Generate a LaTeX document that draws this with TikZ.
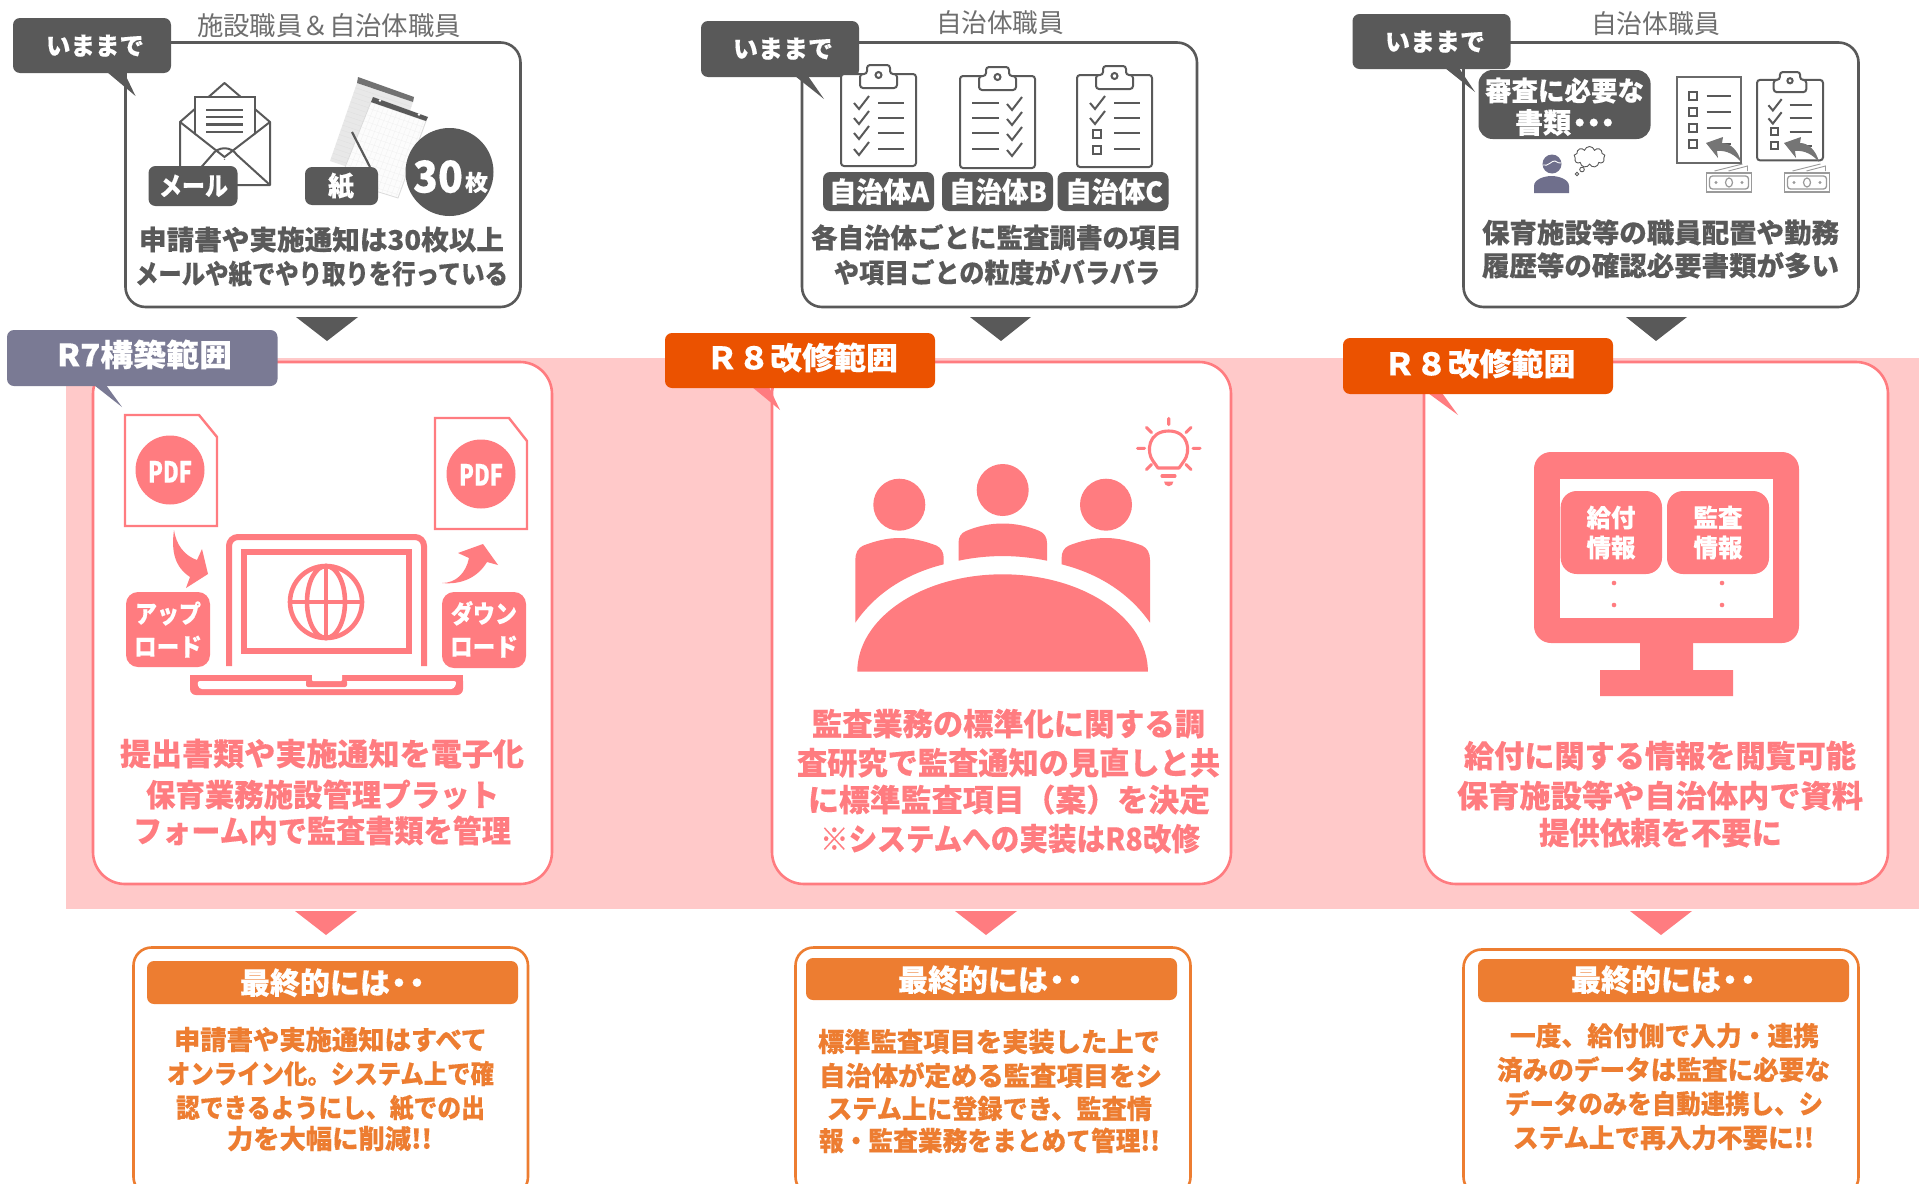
\documentclass[tikz,border=0pt]{standalone}
\usepackage{fontspec}
\usepackage{graphicx}
\usetikzlibrary{shapes.symbols,calc}
\setmainfont{Noto Sans CJK JP}[BoldFeatures={FakeBold=0.25}]
\newfontfamily\jpreg{Noto Sans CJK JP}
\definecolor{dk}{HTML}{595959}
\definecolor{hd}{HTML}{6E6E6E}
\definecolor{pk}{HTML}{FF7C80}
\definecolor{band}{HTML}{FFC9C9}
\definecolor{org}{HTML}{ED7D31}
\definecolor{rv}{HTML}{EB5200}
\definecolor{nv}{HTML}{7A7A94}
\definecolor{pn}{HTML}{6F6F8C}
\definecolor{ar}{HTML}{757575}
\definecolor{mn}{HTML}{9A9A9A}
% name, cx, cy, width, size, colour, text
\newcommand{\tx}[7]{\node[inner sep=0pt,anchor=base,text=#6] (#1) at (#2,{#3+0.40*#5}) {\fontsize{#5}{#5}\selectfont\bfseries\resizebox{#4pt}{\height}{#7}};}
\newcommand{\rgt}[7]{\node[inner sep=0pt,anchor=base,text=#6] (#1) at (#2,{#3+0.38*#5}) {\fontsize{#5}{#5}\selectfont\jpreg\resizebox{#4pt}{\height}{#7}};}
\newcommand{\finalhead}{最終的には\kern-.2em・\kern-.4em・\kern-.33em}
% clipboard frame: x,y of top-left
\newcommand{\clipframe}{%
  \draw[iconline,rounded corners=3pt,fill=white] (0,9) rectangle (75,101);
  \draw[iconline,fill=white,rounded corners=3pt] (19,23) -- (19,9) -- (26,9) -- (26,0) -- (49,0) -- (49,9) -- (56,9) -- (56,23) -- cycle;
  \draw[iconline] (37.5,10) circle (3);
}
\newcommand{\chk}[2]{\draw[iconline] (#1,#2) -- ++(5,6) -- ++(10,-13);}
\newcommand{\sqr}[2]{\draw[iconline] (#1,#2) ++(-4,-4) rectangle ++(8,8);}
\newcommand{\hln}[3]{\draw[iconline] (#1,#3) -- (#2,#3);}
\newcommand{\money}{%
  \draw[mn,line width=1.3pt,fill=white] (0,3) rectangle (45,22);
  \draw[mn,line width=1.3pt,rounded corners=3pt] (3,6) rectangle (42,19);
  \draw[mn,line width=1.2pt] (22.5,12.5) ellipse (3.5 and 4.5);
  \fill[mn] (9.5,12.5) circle (1.7) (35.5,12.5) circle (1.7);
  \draw[mn,line width=.9pt] (8,1) -- (36,-6) (22,1) -- (41,-4) -- (41,1);
}
\newcommand{\greyarrow}{%
  \fill[ar] (1741,162) .. controls (1738,150) and (1730,143) .. (1722,143) -- (1723,137) -- (1706,143) -- (1718,158) -- (1717,151) .. controls (1727,150) and (1735,155) .. (1741,162) -- cycle;
}
\tikzset{
  iconline/.style={dk,line width=2pt},
  panel/.style={dk,line width=2.6pt,fill=white,rounded corners=20pt},
  pkpanel/.style={pk,line width=2.6pt,fill=white,rounded corners=32pt},
  orpanel/.style={org,line width=2.6pt,fill=white,rounded corners=18pt},
  callout/.style={fill=dk,rounded corners=7pt},
  tag/.style={fill=dk,rounded corners=7pt},
  orhead/.style={fill=org,rounded corners=7pt},
  bulb/.style={pk,line width=3.1pt,line cap=round},
}
\begin{document}
\begin{tikzpicture}[x=1pt,y=-1pt]
\useasboundingbox (0,0) rectangle (1919,1183);
\clip (0,0) rectangle (1919,1183);
\fill[white] (0,0) rectangle (1919,1183);
% pink band
\fill[band] (66,358) rectangle (1919,909);

%%% ---------- top panels
\draw[panel] (125.5,42.5) rectangle (520.5,307);
\draw[panel] (802,42.5) rectangle (1197,307);
\draw[panel] (1463.5,42.5) rectangle (1858.5,307);
\fill[dk] (296,317) -- (358,317) -- (327,341) -- cycle;
\fill[dk] (970,317) -- (1031,317) -- (1001,341) -- cycle;
\fill[dk] (1626,317) -- (1687,317) -- (1656,341) -- cycle;

% envelope
\draw[iconline,fill=white,line join=round] (180,122) -- (224.5,83) -- (270,122) -- (270,185) -- (180,185) -- cycle;
\draw[iconline,fill=white] (195,97) rectangle (255,160);
\fill[white] (182,124) -- (224.5,160) -- (268,124) -- (268,183) -- (182,183) -- cycle;
\draw[iconline] (180,122) -- (224.5,157) -- (270,122);
\draw[iconline,line join=round] (190,180) -- (212,155) .. controls (218,146) and (231,146) .. (237,155) -- (270,185);
\draw[dk,line width=2.4pt] (206,110) -- (243,110) (206,117) -- (243,117) (206,124.5) -- (243,124.5) (206,132) -- (243,132);
\fill[tag] (148.5,166) rectangle (237.5,206);
\tx{mail}{193.5}{185}{69}{26}{white}{メール}

% paper
\fill[black!9] (357,83) -- (413,102) -- (386,180) -- (330,161) -- cycle;
\foreach \tv in {.06,.12,...,1}{\draw[black!13,line width=.3pt] ($(357,83)!\tv!(330,161)$) -- ($(413,102)!\tv!(386,180)$);}
\fill[dk!85] (358,77) -- (414,97) -- (413,102) -- (357,83) -- cycle;
\fill[black!1,draw=black!14,line width=.8pt] (371,102) -- (426,121) -- (398,198) -- (340,180) -- cycle;
\foreach \tv in {.08,.16,...,1}{\draw[black!6,line width=.3pt] ($(371,102)!\tv!(340,180)$) -- ($(426,121)!\tv!(398,198)$);
  \draw[black!6,line width=.3pt] ($(371,102)!\tv!(426,121)$) -- ($(340,180)!\tv!(398,198)$);}
\fill[dk] (373,97) -- (428,117) -- (426,121) -- (371,102) -- cycle;
\fill[white] (380,100.5) circle (1.4) (419,114.5) circle (1.4);
\draw[dk,line width=2.2pt] (352,132) -- (370,167);
\fill[tag] (305,167) rectangle (378,205);
\tx{kami}{341}{185}{26}{27}{white}{紙}
\fill[dk] (449.5,172) circle (44);
\tx{n30}{438}{175}{50}{44}{white}{30}
\tx{mai}{476.5}{182}{23}{22}{white}{枚}

% headers
\rgt{h1}{329}{26}{264}{26}{hd}{施設職員＆自治体職員}
\rgt{h2}{1000}{23}{128}{26}{hd}{自治体職員}
\rgt{h3}{1655.5}{24}{129}{26}{hd}{自治体職員}

% callouts
\fill[dk] (107,72) -- (124,72) -- (135.5,96) -- cycle;
\fill[callout] (13,18) rectangle (171,73);
\tx{c1}{95}{45}{98}{25}{white}{いままで}
\fill[dk] (795,76) -- (808,76) -- (824,99) -- cycle;
\fill[callout] (701,21) rectangle (859,77);
\tx{c2}{783}{48}{100}{25}{white}{いままで}
\fill[dk] (1445,68) -- (1459,68) -- (1475,92) -- cycle;
\fill[callout] (1352.5,14) rectangle (1510.5,69);
\tx{c3}{1435}{41}{100}{25}{white}{いままで}

\tx{t1a}{321.5}{239}{365}{27}{dk}{申請書や実施通知は30枚以上}
\tx{t1b}{321.5}{273}{373}{27}{dk}{メールや紙でやり取りを行っている}

% clipboards
\begin{scope}[shift={(841,65)}]
\clipframe
\foreach \y in {38,53,68,84}{\chk{13}{\y}\hln{37}{63}{\y}}
\end{scope}
\begin{scope}[shift={(960,67)}]
\clipframe
\foreach \y in {36,51,66,82}{\chk{47}{\y+1}\hln{12}{39}{\y}}
\end{scope}
\begin{scope}[shift={(1077,66)}]
\clipframe
\foreach \y in {37,52}{\chk{13}{\y}}
\foreach \y in {37,52,67,83}{\hln{37}{63}{\y}}
\sqr{20}{68}\sqr{20}{84}
\end{scope}
\fill[tag] (823,172) rectangle (934,211);
\tx{ja}{879}{191}{100}{28}{white}{自治体A}
\fill[tag] (942,172) rectangle (1053,211);
\tx{jb}{998}{191}{98}{28}{white}{自治体B}
\fill[tag] (1057.5,172) rectangle (1168.5,211);
\tx{jc}{1114}{191}{98}{28}{white}{自治体C}
\tx{t2a}{996.5}{237}{371}{27}{dk}{各自治体ごとに監査調書の項目}
\tx{t2b}{997}{272}{326}{27}{dk}{や項目ごとの粒度がバラバラ}

% panel 3 contents
\fill[dk,rounded corners=14pt] (1478.5,70) rectangle (1650.6,139);
\tx{sa}{1564.5}{90}{159}{27}{white}{審査に必要な}
\tx{sb}{1563.5}{122}{97}{28}{white}{書類\kern-.2em・\kern-.5em・\kern-.5em・\kern-.35em}
\fill[pn] (1552,164) circle (9.5);
\draw[white,line width=.9pt] (1543,165) .. controls (1548,167) and (1552,160) .. (1555,161) .. controls (1558,162) and (1559,164) .. (1561,163);
\fill[pn] (1534,193) -- (1534,186) .. controls (1534,179) and (1545,176) .. (1551.5,176) .. controls (1558,176) and (1569,179) .. (1569,186) -- (1569,193) -- cycle;
\node[cloud,draw=dk,line width=.9pt,fill=white,cloud puffs=9,aspect=1.5,minimum width=31pt,minimum height=21pt,inner sep=0pt] (thought) at (1589.5,157) {};
\draw[dk,line width=.9pt] (1582,169.5) circle (2.3) (1577,174) circle (1.8);
% sheet
\draw[dk!90,line width=2pt,fill=white] (1677,77) rectangle (1741,163);
\foreach \y in {96,112,128}{\draw[dk,line width=2pt] (1688.5,\y-4) rectangle ++(8,8);\draw[dk,line width=2pt] (1706.6,\y) -- (1731,\y);}
\draw[dk,line width=2pt] (1688.5,140) rectangle ++(8,8);
\draw[dk,line width=2pt] (1714,144) -- (1731,144);
\begin{scope}[shift={(1757,72)},xscale=.88,yscale=.875]
\clipframe
\foreach \y in {38,53}{\chk{13}{\y}}
\foreach \y in {38,53,68,84}{\hln{37}{63}{\y}}
\sqr{20}{68}\sqr{20}{84}
\end{scope}
\greyarrow
\begin{scope}[xshift=78pt]\greyarrow\end{scope}
\begin{scope}[shift={(1706.5,170)}]\money\end{scope}
\begin{scope}[shift={(1784.5,170)}]\money\end{scope}
\tx{t3a}{1660.5}{232}{357}{27}{dk}{保育施設等の職員配置や勤務}
\tx{t3b}{1660.5}{265}{357}{27}{dk}{履歴等の確認必要書類が多い}

%%% ---------- pink panels
\draw[pkpanel] (93,362) rectangle (552,884);
\draw[pkpanel] (772,362) rectangle (1231,884);
\draw[pkpanel] (1424,362) rectangle (1888,884);

% tags
\fill[nv] (94,385) -- (106,385) -- (122,407) -- cycle;
\fill[nv,rounded corners=7pt] (7,330) rectangle (277.5,386);
\tx{r7}{144.5}{354}{175}{31}{white}{R7構築範囲}
\fill[pk] (752,387) -- (769,387) -- (780,410) -- cycle;
\fill[rv,rounded corners=7pt] (665,333) rectangle (935,388);
\tx{r8a}{802}{357}{192}{31}{white}{Ｒ８改修範囲}
\fill[pk] (1428,393) -- (1442,393) -- (1458,415) -- cycle;
\fill[rv,rounded corners=7pt] (1343,338) rectangle (1613,394);
\tx{r8b}{1479.5}{363}{192}{31}{white}{Ｒ８改修範囲}

% PDF docs
\draw[pk,line width=2.4pt,fill=white] (125,415) -- (199,415) -- (217,437) -- (217,526) -- (125,526) -- cycle;
\fill[pk] (170,470) circle (34.5);
\tx{pdfa}{170}{471}{44}{29}{white}{PDF}
\draw[pk,line width=2.4pt,fill=white] (435,418) -- (509,418) -- (527,441) -- (527,529) -- (435,529) -- cycle;
\fill[pk] (481,474) circle (34.5);
\tx{pdfb}{481}{474}{44}{29}{white}{PDF}
% curved arrows
\fill[pk] (174,530) .. controls (171,552) and (175,567) .. (190,577) -- (186,588) -- (208,574) -- (202,549) -- (197,560) .. controls (185,556) and (176,545) .. (174,530) -- cycle;
\fill[pk] (442,583) .. controls (456,583) and (466,573) .. (469,558) -- (458,553) -- (483,544) -- (498,565) -- (487,562) .. controls (478,577) and (462,585) .. (442,583) -- cycle;
% up/down tags
\fill[pk,rounded corners=12pt] (126,592) rectangle (210,667);
\tx{upa}{168}{613}{66}{25}{white}{アップ}
\tx{upb}{168}{646}{68}{25}{white}{ロード}
\fill[pk,rounded corners=12pt] (442,592) rectangle (526,668);
\tx{dna}{484}{613}{66}{25}{white}{ダウン}
\tx{dnb}{484}{646}{68}{25}{white}{ロード}
% laptop
\draw[pk,line width=6pt,rounded corners=9pt] (229,666) -- (229,537) -- (424,537) -- (424,666);
\draw[pk,line width=6pt] (244,552) rectangle (409,651);
\draw[pk,line width=4.6pt] (326,602) circle (36);
\draw[pk,line width=4.6pt] (326,602) ellipse (19 and 36);
\draw[pk,line width=4.6pt] (326,566) -- (326,638) (290,602) -- (362,602);
\fill[pk,rounded corners=6pt] (190,675) -- (190,695) -- (463,695) -- (463,675) -- cycle;
\fill[pk] (190,675) rectangle (463,685);
\fill[white,rounded corners=3pt] (197,681) -- (199,689) -- (454,689) -- (457,681) -- cycle;
\fill[pk,rounded corners=2pt] (306,680) -- (306,687) -- (347,687) -- (347,680) -- cycle;
\fill[white,rounded corners=1pt] (312,674) rectangle (342,681);

\tx{p1a}{322}{753}{404}{31}{pk}{提出書類や実施通知を電子化}
\tx{p1b}{322.5}{794}{353}{31}{pk}{保育業務施設管理プラット}
\tx{p1c}{322}{830}{378}{31}{pk}{フォーム内で監査書類を管理}

% meeting
\fill[pk] (899.3,504.7) circle (26) (1002.7,490) circle (26) (1106,504.7) circle (26);
\fill[pk] (855.3,622.7) -- (855.3,560) .. controls (855.3,553) and (858,548) .. (863,545.7) .. controls (875,541) and (887,538) .. (899.3,538) .. controls (912,538) and (925,541) .. (936.7,545.7) .. controls (941,548) and (943.7,552) .. (943.7,558) -- (943.7,564.3) .. controls (905,574) and (875,594) .. (855.3,622.7) -- cycle;
\fill[pk] (1150,622.7) -- (1150,560) .. controls (1150,553) and (1147.3,548) .. (1142.3,545.7) .. controls (1130,541) and (1118,538) .. (1106,538) .. controls (1093,538) and (1080,541) .. (1068.6,545.7) .. controls (1064,548) and (1061.6,552) .. (1061.6,558) -- (1061.6,564.3) .. controls (1100,574) and (1130,594) .. (1150,622.7) -- cycle;
\fill[pk] (958.5,560.7) -- (958.5,543) .. controls (958.5,537) and (961,533) .. (966,531) .. controls (978,526) and (990,523.5) .. (1002.7,523.5) .. controls (1015,523.5) and (1028,526) .. (1039.5,531) .. controls (1044,533) and (1047,537) .. (1047,543) -- (1047,560.7) .. controls (1017,554.5) and (988,554.5) .. (958.5,560.7) -- cycle;
\fill[pk] (857.3,671.7) arc[start angle=180,end angle=360,x radius=145.3,y radius=97.4] -- cycle;
% bulb
\draw[bulb,line join=round] (1158,468) -- (1153,461) .. controls (1146,452) and (1148,431) .. (1168.7,431) .. controls (1189,431) and (1191,452) .. (1184,461) -- (1179,468) -- cycle;
\draw[bulb] (1162,476) -- (1175,476);
\fill[pk] (1164,481.5) -- (1173.4,481.5) arc[start angle=0,end angle=180,radius=4.7] -- cycle;
\draw[bulb] (1168.7,418.5) -- (1168.7,424.5) (1193,448.3) -- (1200,448.3) (1137.5,448.3) -- (1144.5,448.3) (1146.5,427.5) -- (1151.5,432.5) (1191,427.5) -- (1186,432.5) (1146.5,469.5) -- (1151.5,464.5) (1191,469.5) -- (1186,464.5);

\tx{p2a}{1008.5}{723}{393}{31}{pk}{監査業務の標準化に関する調}
\tx{p2b}{1008.5}{762}{423}{31}{pk}{査研究で監査通知の見直しと共}
\tx{p2c}{1009}{799}{402}{31}{pk}{に標準監査項目（案）を決定}
\tx{p2d}{1010}{838}{380}{31}{pk}{※システムへの実装はR8改修}

% monitor
\fill[pk,rounded corners=17pt] (1534,452) rectangle (1799,643);
\fill[white] (1560,479) rectangle (1773,618);
\fill[pk] (1640,640) rectangle (1693,672) (1600,670) rectangle (1733,696);
\fill[pk,rounded corners=16pt] (1560.7,491) rectangle (1662,574);
\fill[pk,rounded corners=16pt] (1667,491) rectangle (1769,574);
\tx{m1}{1611}{517}{49}{25}{white}{給付}
\tx{m2}{1611}{547}{49}{25}{white}{情報}
\tx{m3}{1718}{517}{49}{25}{white}{監査}
\tx{m4}{1718}{547}{49}{25}{white}{情報}
\fill[pk] (1614,583) circle (2.3) (1614,605) circle (2.3) (1722,583) circle (2.3) (1722,605) circle (2.3);

\tx{p3a}{1660}{755}{392}{31}{pk}{給付に関する情報を閲覧可能}
\tx{p3b}{1660}{795}{406}{31}{pk}{保育施設等や自治体内で資料}
\tx{p3c}{1660.5}{832}{243}{31}{pk}{提供依頼を不要に}

%%% ---------- arrows and final panels
\fill[pk] (295,911) -- (357,911) -- (326,935) -- cycle;
\fill[pk] (955,911) -- (1017,911) -- (986,935) -- cycle;
\fill[pk] (1630,911) -- (1692,911) -- (1661,935) -- cycle;

\draw[orpanel] (133.5,947.5) rectangle (528,1195);
\fill[orhead] (147,961) rectangle (518,1004);
\tx{f1}{331}{982}{182}{30}{white}{\finalhead}
\tx{f1a}{330.5}{1039}{313}{26.5}{org}{申請書や実施通知はすべて}
\tx{f1b}{330.5}{1073}{327}{26.5}{org}{オンライン化。システム上で確}
\tx{f1c}{330.5}{1107}{309}{26.5}{org}{認できるようにし、紙での出}
\tx{f1d}{329.5}{1138}{205}{26.5}{org}{力を大幅に削減!!}

\draw[orpanel] (795.5,947.5) rectangle (1190.5,1195);
\fill[orhead] (806,958) rectangle (1177,1000);
\tx{f2}{989}{979}{182}{30}{white}{\finalhead}
\tx{f2a}{989}{1041}{342}{26.5}{org}{標準監査項目を実装した上で}
\tx{f2b}{990.5}{1075}{343}{26.5}{org}{自治体が定める監査項目をシ}
\tx{f2c}{989.5}{1108}{325}{26.5}{org}{ステム上に登録でき、監査情}
\tx{f2d}{989.5}{1140}{341}{26.5}{org}{報・監査業務をまとめて管理!!}

\draw[orpanel] (1463.5,949.5) rectangle (1858.5,1195);
\fill[orhead] (1478,959) rectangle (1849,1002);
\tx{f3}{1662}{979}{182}{30}{white}{\finalhead}
\tx{f3a}{1664.5}{1035}{309}{26.5}{org}{一度、給付側で入力・連携}
\tx{f3b}{1663.5}{1069}{333}{26.5}{org}{済みのデータは監査に必要な}
\tx{f3c}{1664}{1103}{318}{26.5}{org}{データのみを自動連携し、シ}
\tx{f3d}{1663.5}{1137}{301}{26.5}{org}{ステム上で再入力不要に!!}
\end{tikzpicture}
\end{document}
